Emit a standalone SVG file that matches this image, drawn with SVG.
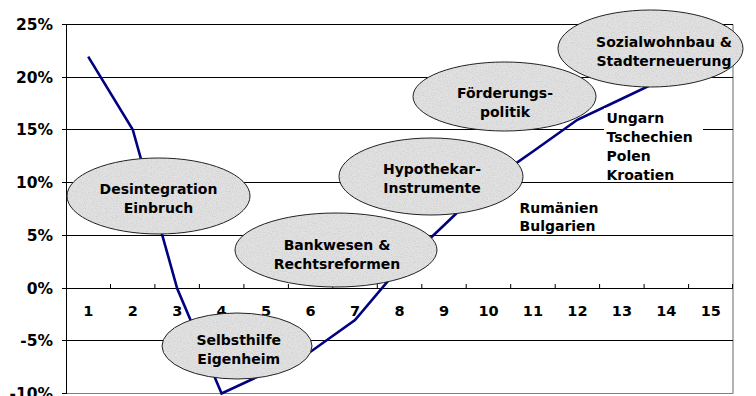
<svg xmlns="http://www.w3.org/2000/svg" width="756" height="396" viewBox="0 0 756 396">
<style>
  text { font-family: "DejaVu Sans", Verdana, sans-serif; font-weight: bold; font-size: 14px; fill: #000; }
  .ylab { text-anchor: end; font-size: 15.5px; }
  .xlab { text-anchor: middle; font-size: 14.5px; }
  .mid { text-anchor: middle; }
  .grid { stroke: #000; stroke-width: 1; fill: none; }
  .frame { stroke: #808080; stroke-width: 1.2; fill: none; }
  .tick { stroke: #000; stroke-width: 1; }
  .bubble { fill: #e2e2e2; stroke: none; }
  .outline { fill: none; stroke: #222; stroke-width: 1; }
  .series { fill: none; stroke: #000080; stroke-width: 2.6; stroke-linejoin: miter; }
</style>
<defs>
  <filter id="granite" x="0" y="0" width="100%" height="100%">
    <feTurbulence type="fractalNoise" baseFrequency="0.8" numOctaves="2" seed="7" result="t"/>
    <feColorMatrix in="t" type="matrix" values="0 0 0 0 0.55  0 0 0 0 0.55  0 0 0 0 0.55  1.4 0 0 0 -0.55" result="g"/>
    <feComposite in="g" in2="SourceGraphic" operator="in" result="gc"/>
    <feMerge><feMergeNode in="SourceGraphic"/><feMergeNode in="gc"/></feMerge>
  </filter>
</defs>
<rect x="0" y="0" width="756" height="396" fill="#fff"/>

<!-- plot frame and gridlines -->
<g id="grid">
  <line class="frame" x1="733" y1="24.5" x2="733" y2="393.5"/>
  <line class="frame" x1="66" y1="393.5" x2="733" y2="393.5"/>
  <line class="grid" x1="66" y1="24.5" x2="733" y2="24.5"/>
  <line class="grid" x1="66" y1="77.5" x2="733" y2="77.5"/>
  <line class="grid" x1="66" y1="129.5" x2="733" y2="129.5"/>
  <line class="grid" x1="66" y1="182.5" x2="733" y2="182.5"/>
  <line class="grid" x1="66" y1="235.5" x2="733" y2="235.5"/>
  <line class="grid" x1="66" y1="288.5" x2="733" y2="288.5"/>
  <line class="grid" x1="66" y1="340.5" x2="733" y2="340.5"/>
  <line class="grid" x1="66.5" y1="24" x2="66.5" y2="394"/>
  <g class="tick">
    <line x1="62" y1="24.5" x2="66" y2="24.5"/>
    <line x1="62" y1="77.5" x2="66" y2="77.5"/>
    <line x1="62" y1="129.5" x2="66" y2="129.5"/>
    <line x1="62" y1="182.5" x2="66" y2="182.5"/>
    <line x1="62" y1="235.5" x2="66" y2="235.5"/>
    <line x1="62" y1="288.5" x2="66" y2="288.5"/>
    <line x1="62" y1="340.5" x2="66" y2="340.5"/>
    <line x1="62" y1="393.5" x2="66" y2="393.5"/>
    <line x1="110.5" y1="284" x2="110.5" y2="288"/>
    <line x1="154.9" y1="284" x2="154.9" y2="288"/>
    <line x1="199.4" y1="284" x2="199.4" y2="288"/>
    <line x1="243.9" y1="284" x2="243.9" y2="288"/>
    <line x1="288.4" y1="284" x2="288.4" y2="288"/>
    <line x1="332.8" y1="284" x2="332.8" y2="288"/>
    <line x1="377.3" y1="284" x2="377.3" y2="288"/>
    <line x1="421.8" y1="284" x2="421.8" y2="288"/>
    <line x1="466.2" y1="284" x2="466.2" y2="288"/>
    <line x1="510.7" y1="284" x2="510.7" y2="288"/>
    <line x1="555.2" y1="284" x2="555.2" y2="288"/>
    <line x1="599.6" y1="284" x2="599.6" y2="288"/>
    <line x1="644.1" y1="284" x2="644.1" y2="288"/>
    <line x1="688.6" y1="284" x2="688.6" y2="288"/>
    <line x1="732.5" y1="284" x2="732.5" y2="288"/>
  </g>
</g>

<!-- axis labels -->
<g id="y-labels">
  <text class="ylab" x="53" y="30">25%</text>
  <text class="ylab" x="53" y="83">20%</text>
  <text class="ylab" x="53" y="135">15%</text>
  <text class="ylab" x="53" y="188">10%</text>
  <text class="ylab" x="53" y="241">5%</text>
  <text class="ylab" x="53" y="294">0%</text>
  <text class="ylab" x="53" y="346">-5%</text>
  <text class="ylab" x="53" y="399">-10%</text>
</g>
<g id="x-labels">
  <text class="xlab" x="88.2" y="315.5">1</text>
  <text class="xlab" x="132.7" y="315.5">2</text>
  <text class="xlab" x="177.2" y="315.5">3</text>
  <text class="xlab" x="221.6" y="315.5">4</text>
  <text class="xlab" x="266.1" y="315.5">5</text>
  <text class="xlab" x="310.6" y="315.5">6</text>
  <text class="xlab" x="355" y="315.5">7</text>
  <text class="xlab" x="399.5" y="315.5">8</text>
  <text class="xlab" x="444" y="315.5">9</text>
  <text class="xlab" x="488.5" y="315.5">10</text>
  <text class="xlab" x="532.9" y="315.5">11</text>
  <text class="xlab" x="577.4" y="315.5">12</text>
  <text class="xlab" x="621.9" y="315.5">13</text>
  <text class="xlab" x="666.3" y="315.5">14</text>
  <text class="xlab" x="710.8" y="315.5">15</text>
</g>

<!-- data series -->
<g id="connectors">
  <polyline class="series" points="88.2,56.6 132.7,129.5 177.2,288.5 221.6,393.5 266.1,372.8 310.6,351.7 355,320.1 399.5,267.4 444,225.3 488.5,182.5 532.9,151.5 577.4,119.8 621.9,98.8 666.3,77.7"/>
</g>

<!-- country labels -->
<g id="label-ungarn">
  <rect x="604" y="108" width="99" height="72" fill="#fff"/>
  <text x="606.5" y="123">Ungarn</text>
  <text x="606.5" y="142">Tschechien</text>
  <text x="606.5" y="161">Polen</text>
  <text x="606.5" y="179.5">Kroatien</text>
</g>
<g id="label-rumaenien">
  <text x="519.5" y="212.5">Rumänien</text>
  <text x="519.5" y="230.5">Bulgarien</text>
</g>

<!-- phase bubbles -->
<g id="node-desintegration">
  <ellipse class="bubble" filter="url(#granite)" cx="158.5" cy="196" rx="91.5" ry="38"/>
  <ellipse class="outline" cx="158.5" cy="196" rx="91.5" ry="38"/>
  <text class="mid" x="158.5" y="194">Desintegration</text>
  <text class="mid" x="158.5" y="213">Einbruch</text>
</g>
<g id="node-selbsthilfe">
  <ellipse class="bubble" filter="url(#granite)" cx="237" cy="346" rx="75" ry="33"/>
  <ellipse class="outline" cx="237" cy="346" rx="75" ry="33"/>
  <text class="mid" x="238.7" y="344.5">Selbsthilfe</text>
  <text class="mid" x="238.7" y="363.5">Eigenheim</text>
</g>
<g id="node-bankwesen">
  <ellipse class="bubble" filter="url(#granite)" cx="336" cy="250" rx="101" ry="37"/>
  <ellipse class="outline" cx="336" cy="250" rx="101" ry="37"/>
  <text class="mid" x="337" y="249.5">Bankwesen &amp;</text>
  <text class="mid" x="337" y="268.5">Rechtsreformen</text>
</g>
<g id="node-hypothekar">
  <ellipse class="bubble" filter="url(#granite)" cx="431" cy="176.5" rx="92" ry="38.5"/>
  <ellipse class="outline" cx="431" cy="176.5" rx="92" ry="38.5"/>
  <text class="mid" x="432" y="173.5">Hypothekar-</text>
  <text class="mid" x="432" y="193">Instrumente</text>
</g>
<g id="node-foerderung">
  <ellipse class="bubble" filter="url(#granite)" cx="504.5" cy="96.5" rx="91.5" ry="34.5"/>
  <ellipse class="outline" cx="504.5" cy="96.5" rx="91.5" ry="34.5"/>
  <text class="mid" x="505" y="97.5">Förderungs-</text>
  <text class="mid" x="505" y="116.5">politik</text>
</g>
<g id="node-sozialwohnbau">
  <ellipse class="bubble" filter="url(#granite)" cx="650.5" cy="48.5" rx="92.5" ry="38.5"/>
  <ellipse class="outline" cx="650.5" cy="48.5" rx="92.5" ry="38.5"/>
  <text class="mid" x="664" y="46.5">Sozialwohnbau &amp;</text>
  <text class="mid" x="664" y="66">Stadterneuerung</text>
</g>
</svg>
